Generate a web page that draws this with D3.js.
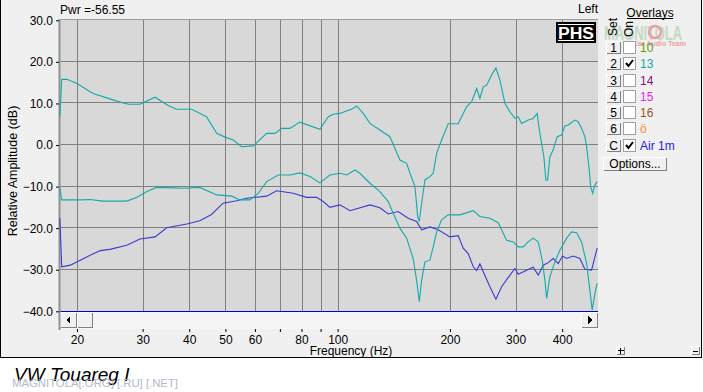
<!DOCTYPE html>
<html><head><meta charset="utf-8">
<script src="https://cdn.jsdelivr.net/npm/d3@7"></script>
<style>body{margin:0;background:#fff;overflow:hidden}text{font-family:"Liberation Sans",Arial,sans-serif}</style>
</head><body>
<svg id="c" width="703" height="392"></svg>
<script>
// ---- data ----
const freqA=[18.0,18.2,18.8,20.0,22.1,24.5,26.9,27.6,29.5,32.4,35.1,37.0,40.6,44.5,47.4,49.9,52.5,55.3,59.4,64.5,67.9,70.8,74.5,79.2,89.6,94.4,97.3,101.4,110.1,112.4,117.1,122.1,129.8,138.1,142.4,146.9,153.1,156.3,161.2,163.9,165.5,168.0,171.4,176.8,180.4,184.3,190.0,197.9,210.5,221.7,228.7,235.9,240.7,245.7,250.9,256.0,260.4,265.7,272.3,280.9,289.7,298.8,304.9,311.4,324.3,334.5,342.8,346.4,352.2,357.2,361.7,365.5,370.7,378.3,388.0,398.6,406.8,415.2,432.7,441.6,450.9,460.2,465.1,472.7,476.8,482.7,489.6,496.6];
const dbA=[6.8,15.8,15.8,14.8,12.4,11.1,10.0,9.8,9.8,11.5,9.5,8.6,8.6,6.8,2.8,1.9,1.2,-0.4,-0.2,2.8,2.8,4.0,4.0,5.5,3.8,6.8,7.4,7.6,8.8,9.4,7.6,5.2,3.6,2.0,-0.8,-3.6,-4.4,-6.8,-10.0,-17.2,-18.4,-14.0,-8.4,-7.6,-6.8,-2.0,1.2,5.1,5.1,9.2,10.4,13.6,11.2,14.0,14.4,16.0,17.3,18.5,15.6,10.0,8.0,6.4,6.8,5.2,6.0,6.4,7.6,4.4,0.4,-2.8,-8.4,-8.4,-2.8,-1.2,2.0,2.4,4.6,4.8,6.0,5.6,4.0,2.0,-0.4,-6.0,-10.0,-11.6,-9.6,-8.8];
const freqB=[18.0,18.2,20.4,21.7,23.5,27.2,28.9,30.8,32.7,36.2,38.6,42.7,47.4,52.0,54.7,58.2,61.3,64.5,69.3,74.5,79.2,84.3,89.6,95.3,101.4,105.7,111.3,114.7,122.1,129.8,136.7,140.9,146.9,153.1,159.4,162.8,165.5,168.0,171.4,176.8,180.4,184.3,190.0,197.9,212.7,231.0,240.7,256.0,269.5,278.0,283.8,295.7,304.9,314.5,324.3,334.5,345.0,353.6,359.5,363.3,370.7,382.4,394.4,411.1,424.0,437.3,450.9,465.1,474.6,481.3,489.6,496.6];
const dbB=[-10.4,-13.2,-13.2,-13.1,-13.5,-13.5,-12.6,-11.2,-10.2,-10.3,-10.4,-10.2,-12.0,-12.3,-13.2,-13.2,-11.6,-8.8,-7.2,-7.2,-6.7,-7.6,-9.1,-7.2,-6.8,-7.2,-6.0,-6.8,-9.2,-11.2,-13.6,-16.4,-20.0,-22.4,-27.3,-32.5,-37.7,-32.5,-28.1,-27.7,-24.5,-20.9,-18.0,-16.8,-16.8,-15.8,-17.2,-17.6,-18.7,-21.2,-22.9,-23.3,-24.5,-24.5,-23.3,-22.4,-23.3,-27.7,-32.5,-36.9,-31.7,-28.1,-25.3,-22.4,-20.9,-21.1,-23.3,-28.5,-34.9,-39.7,-35.7,-33.3];
const freqC=[18.0,18.2,19.2,20.4,21.7,23.1,24.5,27.2,29.5,32.4,34.8,39.4,42.7,45.9,49.3,53.6,57.0,64.5,68.6,76.0,82.6,87.8,91.5,95.3,101.4,107.9,122.1,129.8,136.7,145.3,154.6,162.8,168.0,176.8,186.1,200.0,210.5,217.1,223.9,231.0,235.9,240.7,245.7,256.0,265.7,275.2,289.7,298.8,304.9,321.1,334.5,345.0,355.8,366.8,378.3,390.3,401.0,411.1,428.2,446.3,460.2,479.6,489.6,496.6];
const dbC=[-17.6,-29.3,-28.9,-27.7,-26.5,-25.4,-25.1,-24.1,-22.6,-22.1,-19.9,-19.0,-18.2,-16.7,-14.0,-13.4,-12.8,-12.3,-11.0,-11.6,-12.6,-12.6,-13.6,-15.0,-14.4,-15.8,-14.4,-15.1,-16.6,-16.0,-17.6,-18.4,-20.4,-19.7,-20.4,-22.1,-21.8,-24.8,-26.1,-29.3,-30.2,-28.6,-30.5,-34.1,-37.1,-34.1,-31.3,-29.7,-31.1,-30.1,-29.4,-31.3,-28.9,-28.3,-27.3,-28.5,-26.7,-27.3,-26.7,-27.3,-29.9,-30.1,-26.9,-24.8];
const yTicks=[30,20,10,0,-10,-20,-30,-40];
const xTickLabels=[20,30,40,50,60,80,100,200,300,400];
const xMinorTicks=[70,90];
const xGrid=[20,30,40,50,60,70,80,90,100,200,300,400];
const overlaySets=["1","2","3","4","5","6","C"];
const overlayNames=["10","13","14","15","16","ö","Air 1m"];
const overlayOn=[false,true,false,false,false,false,true];
const overlayColors=["#5f9a00","#10a8a8","#8a1080","#f020f0","#98561c","#ff8a40","#2020f0"];
const pwrText="Pwr =-56.55";
const channelText="Left";
const caption="VW Touareg I";
const watermark="MAGNITOLA[.ORG] [.RU] [.NET]";

// ---- drawing ----
const svg=d3.select("#c");
const PL=59,PR=598,PT=20,PB=311;
const x=d3.scaleLog().domain([17.9,499]).range([PL,PR]);
const y=d3.scaleLinear().domain([-40,30]).range([311.3,20.3]);

svg.append("rect").attr("x",0).attr("y",0).attr("width",703).attr("height",392).attr("fill","#fff");
svg.append("rect").attr("x",0.5).attr("y",-2).attr("width",701).attr("height",359.5)
  .attr("fill","#f0f0f0").attr("stroke","#000").attr("stroke-width",1);

svg.append("rect").attr("x",PL).attr("y",PT).attr("width",PR-PL).attr("height",PB-PT).attr("fill","#d8d8d8");
const grid=svg.append("g").attr("stroke","#808080").attr("stroke-width",1).attr("shape-rendering","crispEdges");
xGrid.forEach(f=>{const px=Math.round(x(f))+0.5;grid.append("line").attr("x1",px).attr("x2",px).attr("y1",PT).attr("y2",PB);});
yTicks.forEach(v=>{if(v===-40)return;const py=Math.round(y(v))-0.5;grid.append("line").attr("x1",PL).attr("x2",PR).attr("y1",py).attr("y2",py);});
svg.append("line").attr("x1",PL).attr("x2",PR).attr("y1",311.5).attr("y2",311.5).attr("stroke","#0000d0").attr("shape-rendering","crispEdges");

const sb=svg.append("g").attr("shape-rendering","crispEdges");
sb.append("rect").attr("x",PL).attr("y",312).attr("width",PR-PL).attr("height",17).attr("fill","#f5f5f5");
function button(g,x0,y0,w,h){
  g.append("rect").attr("x",x0).attr("y",y0).attr("width",w).attr("height",h).attr("fill","#f0f0f0");
  g.append("path").attr("d",`M${x0+0.5},${y0+h-0.5}V${y0+0.5}H${x0+w-0.5}`).attr("fill","none").attr("stroke","#ffffff");
  g.append("path").attr("d",`M${x0+0.5},${y0+h-0.5}H${x0+w-0.5}V${y0+0.5}`).attr("fill","none").attr("stroke","#808080");
}
button(sb,60,312,17,16);
button(sb,77,312,16,16);
button(sb,581,312,17,16);
sb.append("path").attr("d","M66,320l4,-4v8z").attr("fill","#000");
sb.append("path").attr("d","M592,320l-4,-4v8z").attr("fill","#000");

svg.append("line").attr("x1",59.5).attr("x2",59.5).attr("y1",19).attr("y2",330).attr("stroke","#909090").attr("stroke-width",2);
svg.append("line").attr("x1",PL).attr("x2",PR).attr("y1",19.5).attr("y2",19.5).attr("stroke","#a0a0a0").attr("stroke-width",1);

const g=svg.append("g");
svg.append("clipPath").attr("id","clip").append("rect").attr("x",PL).attr("y",PT).attr("width",PR-PL).attr("height",PB-PT+1);
const line=d3.line().x(d=>x(d[0])).y(d=>y(d[1]));
function series(fs,vs,col){
  const pts=fs.map((f,i)=>[f,vs[i]]).filter(p=>p[1]!==undefined);
  g.append("path").datum(pts).attr("d",line).attr("fill","none").attr("stroke",col)
   .attr("stroke-width",1.1).attr("clip-path","url(#clip)");
}
series(freqC,dbC,"#3a3ad0");
series(freqB,dbB,"#12aaaa");
series(freqA,dbA,"#12aaaa");

const ya=svg.append("g").attr("transform","translate(59,0)")
  .call(d3.axisLeft(y).tickValues(yTicks).tickFormat(d3.format(".1f")).tickSize(3).tickPadding(3));
ya.select(".domain").remove();
ya.selectAll("text").attr("font-size",12).attr("fill","#000").attr("font-family","Liberation Sans, Arial");
ya.selectAll("line").attr("stroke","#000");

const xa=svg.append("g").attr("transform","translate(0,329)")
  .call(d3.axisBottom(x).tickValues(xTickLabels.concat(xMinorTicks)).tickFormat(d=>xTickLabels.includes(d)?d:"").tickSize(3).tickPadding(3));
xa.select(".domain").remove();
xa.selectAll("text").attr("font-size",12).attr("fill","#000").attr("font-family","Liberation Sans, Arial");
xa.selectAll("line").attr("stroke","#000");

svg.append("text").attr("x",351).attr("y",355).attr("text-anchor","middle").attr("font-size",12).text("Frequency (Hz)");
svg.append("text").attr("transform","translate(17,171) rotate(-90)").attr("text-anchor","middle").attr("font-size",12.5).text("Relative Amplitude (dB)");
svg.append("text").attr("x",60).attr("y",14).attr("font-size",12).text(pwrText);
svg.append("text").attr("x",598).attr("y",13).attr("text-anchor","end").attr("font-size",12).text(channelText);

const phs=svg.append("g");
phs.append("rect").attr("x",556).attr("y",22).attr("width",40).attr("height",21).attr("fill","#000");
phs.append("line").attr("x1",558).attr("x2",594).attr("y1",24.5).attr("y2",24.5).attr("stroke","#fff");
phs.append("line").attr("x1",558).attr("x2",594).attr("y1",40.5).attr("y2",40.5).attr("stroke","#fff");
phs.append("text").attr("x",576).attr("y",38.5).attr("text-anchor","middle").attr("font-size",16)
  .attr("font-weight","bold").attr("font-family","Liberation Serif, Times New Roman, serif").attr("fill","#fff")
  .attr("textLength",36).attr("lengthAdjust","spacingAndGlyphs").text("PHS");

svg.append("text").attr("x",650).attr("y",17).attr("text-anchor","middle").attr("font-size",12).text("Overlays");
svg.append("line").attr("x1",627).attr("x2",673).attr("y1",18.5).attr("y2",18.5).attr("stroke","#000");
const wm=svg.append("g").attr("opacity",0.45);
wm.append("text").attr("x",604).attr("y",40).attr("font-size",20).attr("font-weight","bold").attr("fill","#8fbf8f")
  .attr("textLength",78).attr("lengthAdjust","spacingAndGlyphs").text("MAGNITOLA");
wm.append("circle").attr("cx",655).attr("cy",32).attr("r",6).attr("fill","none").attr("stroke","#e04040").attr("stroke-width",2.5);
wm.append("text").attr("x",633).attr("y",46).attr("font-size",7).attr("font-weight","bold").attr("fill","#e04040").text("Car Audio Team");
svg.append("text").attr("transform","translate(617,36) rotate(-90)").attr("font-size",12).text("Set");
svg.append("text").attr("transform","translate(633,37) rotate(-90)").attr("font-size",12).text("On");

const rows=svg.append("g");
overlaySets.forEach((s,i)=>{
  const cy=47+i*16.25;
  const r=rows.append("g").attr("shape-rendering","crispEdges");
  button(r,606,Math.round(cy-6),15,13);
  rows.append("text").attr("x",613.5).attr("y",cy+5).attr("text-anchor","middle").attr("font-size",12).text(s);
  r.append("rect").attr("x",623.5).attr("y",Math.round(cy-6)+0.5).attr("width",12).attr("height",12).attr("fill","#fff").attr("stroke","#a0a0a0");
  if(overlayOn[i]){
    const cx=626,cyy=Math.round(cy-6)+3;
    rows.append("path").attr("d",`M${cx},${cyy+3}l2.5,3l4.5,-6`).attr("fill","none").attr("stroke","#000").attr("stroke-width",2);
  }
  rows.append("text").attr("x",640).attr("y",cy+5).attr("font-size",12).attr("fill",overlayColors[i]).text(overlayNames[i]);
});
const ob=svg.append("g").attr("shape-rendering","crispEdges");
button(ob,603,157,64,14);
svg.append("text").attr("x",635).attr("y",168).attr("text-anchor","middle").attr("font-size",12).text("Options...");

const zb=svg.append("g").attr("shape-rendering","crispEdges");
button(zb,616,346,9,9);
button(zb,691,346,9,9);
zb.append("path").attr("d","M617.5,350.5h6M620.5,347.5v6").attr("stroke","#000");
zb.append("path").attr("d","M693,351.5h5").attr("stroke","#000");

svg.append("text").attr("x",14).attr("y",381).attr("font-size",19).attr("font-style","italic").attr("fill","#000").text(caption);
svg.append("text").attr("x",12).attr("y",387).attr("font-size",10).attr("font-family","DejaVu Sans Mono, monospace")
  .attr("textLength",166).attr("lengthAdjust","spacingAndGlyphs")
  .attr("fill","#a9b3c4").attr("opacity",0.9).text(watermark);
</script>
</body></html>
